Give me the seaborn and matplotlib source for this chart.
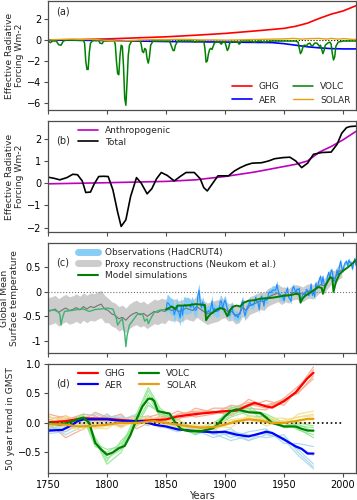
import numpy as np
import seaborn as sns
import matplotlib
matplotlib.use("Agg")
import matplotlib.pyplot as plt
from matplotlib.lines import Line2D
from matplotlib.ticker import FixedLocator, FixedFormatter

# ---------------- panel (a): forcing components ----------------
ghg_years = [1750, 1775, 1800, 1825, 1850, 1875, 1900, 1925, 1950, 1960, 1970, 1980, 1990, 2000, 2011]
ghg_erf = [0.0, 0.03, 0.1, 0.2, 0.3, 0.45, 0.62, 0.85, 1.1, 1.3, 1.6, 2.05, 2.45, 2.75, 3.25]

aer_years = [1750, 1800, 1850, 1900, 1940, 1950, 1960, 1970, 1980, 1990, 2000, 2011]
aer_erf = [0.0, -0.05, -0.15, -0.2, -0.25, -0.35, -0.5, -0.65, -0.75, -0.82, -0.85, -0.85]

volc_years = [1750, 1752, 1754, 1757, 1759, 1761, 1763, 1766, 1780, 1781, 1782, 1783, 1784,
              1785, 1786, 1788, 1793, 1794, 1796, 1797, 1806, 1807, 1808, 1809, 1810, 1811,
              1812, 1813, 1814, 1815, 1816, 1817, 1818, 1819, 1821, 1828, 1829, 1830, 1831,
              1832, 1833, 1834, 1835, 1836, 1837, 1839, 1853, 1855, 1856, 1857, 1858, 1860,
              1872, 1875, 1877, 1882, 1883, 1884, 1885, 1886, 1887, 1888, 1889, 1890, 1891,
              1893, 1895, 1897, 1898, 1900, 1901, 1902, 1903, 1904, 1906, 1908, 1911, 1912,
              1913, 1914, 1916, 1920, 1925, 1929, 1933, 1940, 1950, 1960, 1962, 1963, 1964,
              1965, 1966, 1967, 1968, 1969, 1970, 1972, 1973, 1974, 1976, 1978, 1980, 1981,
              1982, 1983, 1984, 1985, 1987, 1989, 1990, 1991, 1992, 1993, 1994, 1996, 2000,
              2011]
volc_erf = [-0.05, -0.25, -0.1, -0.1, -0.45, -0.5, -0.1, 0.0, -0.05, -0.3, -2.0, -2.8, -2.8,
            -1.2, -0.3, -0.05, -0.05, -0.3, -0.35, -0.1, -0.05, -0.4, -2.0, -3.2, -3.3, -1.5,
            -0.5, -0.6, -2.5, -5.5, -6.2, -4.0, -1.5, -0.5, -0.1, -0.05, -0.4, -1.1, -1.2,
            -0.8, -0.9, -1.8, -2.2, -1.6, -0.5, -0.1, -0.1, -0.7, -1.0, -1.0, -0.5, -0.1,
            -0.1, -0.2, -0.1, -0.1, -0.8, -2.1, -2.0, -1.3, -0.9, -0.8, -0.9, -0.6, -0.3,
            -0.15, -0.2, -0.4, -0.2, -0.2, -0.6, -1.0, -0.8, -0.3, -0.15, -0.2, -0.2, -0.4,
            -0.3, -0.1, -0.1, -0.1, -0.2, -0.1, -0.2, -0.1, -0.1, -0.1, -0.2, -0.8, -1.3,
            -1.1, -0.7, -0.5, -0.5, -0.6, -0.4, -0.3, -0.5, -0.6, -0.3, -0.3, -0.6, -0.5,
            -0.9, -1.3, -1.0, -0.5, -0.3, -0.2, -0.4, -1.3, -1.9, -1.6, -0.6, -0.2, -0.1,
            -0.1]

solar_years = [1750, 1760, 1770, 1780, 1790, 1800, 1810, 1820, 1830, 1840, 1850, 1860, 1870,
               1880, 1890, 1900, 1910, 1920, 1930, 1940, 1950, 1958, 1965, 1970, 1980, 1986,
               1990, 1996, 2001, 2008, 2011]
solar_erf = [0.0, 0.05, 0.08, 0.05, 0.05, -0.05, -0.1, -0.05, 0.0, 0.03, 0.02, 0.05, 0.05,
             0.0, 0.0, -0.02, 0.0, 0.03, 0.05, 0.08, 0.1, 0.15, 0.08, 0.12, 0.15, 0.08,
             0.15, 0.08, 0.13, 0.05, 0.05]

# ---------------- panel (b): total and anthropogenic ----------------
anthro_years = [1750, 1800, 1850, 1875, 1900, 1925, 1950, 1960, 1970, 1980, 1990, 2000, 2011]
anthro_erf = [-0.03, 0.02, 0.08, 0.15, 0.3, 0.5, 0.75, 0.85, 1.0, 1.4, 1.65, 1.95, 2.33]

total_years = [1750, 1755, 1760, 1766, 1771, 1775, 1779, 1782, 1786, 1789, 1793, 1797, 1801,
               1805, 1809, 1812, 1816, 1820, 1825, 1829, 1834, 1838, 1842, 1846, 1851, 1857,
               1862, 1867, 1874, 1879, 1882, 1885, 1889, 1894, 1903, 1908, 1913, 1918, 1923,
               1931, 1937, 1942, 1949, 1955, 1960, 1965, 1970, 1975, 1982, 1990, 1995, 1999,
               2003, 2006, 2011]
total_erf = [0.27, 0.22, 0.15, 0.25, 0.4, 0.38, 0.1, -0.42, -0.4, -0.05, 0.3, 0.31, 0.3,
             -0.3, -1.3, -1.95, -1.65, -0.6, 0.25, 0.0, -0.48, -0.25, 0.2, 0.48, 0.35, 0.1,
             0.3, 0.48, 0.48, 0.2, -0.2, -0.35, -0.05, 0.33, 0.33, 0.55, 0.7, 0.82, 0.9,
             0.92, 1.0, 1.1, 1.15, 1.17, 1.0, 0.7, 0.9, 1.3, 1.38, 1.4, 1.75, 2.25,
             2.5, 2.55, 2.57]

# ---------------- panel (c): temperature ----------------
proxy_years = np.arange(1750, 2000, 3)
proxy_median = [-0.40, -0.38, -0.35, -0.42, -0.37, -0.33, -0.38, -0.36, -0.32, -0.37,
                -0.30, -0.35, -0.30, -0.32, -0.28, -0.25, -0.35, -0.38, -0.45, -0.48,
                -0.55, -0.52, -0.58, -0.50, -0.45, -0.42, -0.47, -0.44, -0.50, -0.45,
                -0.40, -0.42, -0.38, -0.40, -0.35, -0.38, -0.36, -0.40, -0.38, -0.33,
                -0.36, -0.38, -0.30, -0.35, -0.40, -0.45, -0.42, -0.40, -0.38, -0.33,
                -0.35, -0.42, -0.40, -0.48, -0.45, -0.32, -0.38, -0.28, -0.25, -0.22,
                -0.18, -0.20, -0.12, -0.08, -0.05, -0.02, -0.08, -0.05, -0.08, -0.02,
                0.00, -0.02, -0.05, 0.00, 0.02, 0.00, 0.08, 0.15, 0.12, 0.22,
                0.30, 0.28, 0.40, 0.45]
proxy_halfwidth_by_block = [0.28, 0.25, 0.22, 0.18, 0.15]
proxy_block_sizes = [17, 17, 16, 17, 17]

obs_years = np.arange(1850, 2012)
obs_temp = [-0.37, -0.22, -0.23, -0.27, -0.29, -0.30, -0.32, -0.47, -0.39, -0.28,
            -0.39, -0.43, -0.53, -0.28, -0.48, -0.28, -0.26, -0.30, -0.28, -0.28,
            -0.28, -0.32, -0.23, -0.29, -0.35, -0.38, -0.36, -0.07, 0.03, -0.23,
            -0.32, -0.21, -0.30, -0.33, -0.41, -0.42, -0.38, -0.42, -0.33, -0.19,
            -0.40, -0.33, -0.39, -0.40, -0.39, -0.37, -0.19, -0.19, -0.36, -0.23,
            -0.17, -0.25, -0.35, -0.43, -0.49, -0.37, -0.29, -0.45, -0.47, -0.50,
            -0.48, -0.53, -0.46, -0.44, -0.24, -0.18, -0.40, -0.49, -0.38, -0.30,
            -0.27, -0.19, -0.28, -0.26, -0.27, -0.22, -0.11, -0.20, -0.21, -0.36,
            -0.15, -0.09, -0.16, -0.29, -0.12, -0.17, -0.15, -0.02, 0.00, -0.02,
            0.03, 0.04, 0.03, 0.04, 0.15, 0.03, -0.09, -0.09, -0.09, -0.10,
            -0.18, -0.06, 0.01, 0.08, -0.12, -0.14, -0.19, 0.05, 0.11, 0.06,
            -0.03, 0.06, 0.04, 0.07, -0.20, -0.11, -0.06, -0.02, -0.08, 0.05,
            0.03, -0.08, 0.01, 0.16, -0.07, -0.01, -0.10, 0.18, 0.07, 0.16,
            0.26, 0.32, 0.14, 0.31, 0.16, 0.12, 0.18, 0.33, 0.40, 0.27,
            0.45, 0.41, 0.22, 0.23, 0.32, 0.45, 0.33, 0.52, 0.63, 0.49,
            0.44, 0.55, 0.60, 0.62, 0.54, 0.65, 0.59, 0.59, 0.47, 0.60,
            0.68, 0.54]
obs_err_by_decade = [0.17, 0.17, 0.14, 0.12, 0.12, 0.10, 0.10, 0.08, 0.08, 0.09,
                     0.06, 0.05, 0.05, 0.05, 0.05, 0.05, 0.05]
obs_decade_sizes = [10] * 16 + [2]

model_pre_years = [1750, 1755, 1758, 1760, 1761, 1762, 1764, 1770, 1775, 1780, 1783, 1785,
                   1790, 1795, 1800, 1805, 1808, 1809, 1811, 1813, 1815, 1816, 1817, 1819,
                   1822, 1826, 1830, 1832, 1834, 1835, 1837, 1840, 1845, 1850]
model_pre = [-0.38, -0.37, -0.40, -0.45, -0.68, -0.55, -0.40, -0.38, -0.36, -0.35, -0.38, -0.40,
             -0.36, -0.35, -0.33, -0.35, -0.55, -0.68, -0.60, -0.55, -0.85, -1.12, -0.90, -0.68,
             -0.58, -0.45, -0.45, -0.60, -0.55, -0.65, -0.55, -0.42, -0.37, -0.36]
model_post_years = [1850, 1855, 1858, 1860, 1865, 1870, 1875, 1880, 1883, 1884, 1886, 1888,
                    1890, 1893, 1896, 1899, 1902, 1904, 1907, 1910, 1913, 1916, 1920, 1925,
                    1930, 1935, 1940, 1945, 1950, 1955, 1960, 1963, 1964, 1966, 1968, 1972,
                    1975, 1979, 1982, 1983, 1985, 1989, 1991, 1992, 1994, 1997, 2000, 2004,
                    2008, 2011]
model_post = [-0.36, -0.30, -0.35, -0.28, -0.28, -0.27, -0.25, -0.26, -0.27, -0.58, -0.50, -0.45,
              -0.42, -0.36, -0.33, -0.35, -0.50, -0.38, -0.30, -0.28, -0.30, -0.22, -0.18, -0.17,
              -0.14, -0.13, -0.12, -0.10, -0.08, -0.07, -0.04, -0.05, -0.22, -0.13, -0.08, -0.02,
              0.03, 0.10, 0.08, -0.04, 0.12, 0.30, 0.28, 0.00, 0.20, 0.36, 0.43, 0.50,
              0.58, 0.65]

# ---------------- panel (d): 50 year trends ----------------
member_years = [1750, 1765, 1780, 1790, 1800, 1812, 1825, 1835, 1845, 1860, 1875, 1890,
                1905, 1920, 1935, 1950, 1962, 1975]

ghg_trend_years = [1750, 1765, 1780, 1800, 1825, 1850, 1860, 1875, 1900, 1910, 1920, 1925,
                   1935, 1940, 1950, 1960, 1965, 1970, 1975]
ghg_trend = [0.01, 0.03, 0.08, 0.07, 0.03, 0.06, 0.11, 0.15, 0.2, 0.21, 0.3, 0.34,
             0.28, 0.26, 0.37, 0.52, 0.64, 0.76, 0.85]
ghg_members = [
    [0.10, 0.05, 0.15, 0.12, 0.02, -0.05, 0.02, 0.05, 0.10, 0.12, 0.18, 0.15, 0.20, 0.32, 0.25, 0.35, 0.55, 0.90],
    [-0.05, -0.15, 0.05, 0.18, 0.10, 0.08, -0.02, 0.10, 0.15, 0.08, 0.12, 0.25, 0.25, 0.35, 0.30, 0.40, 0.50, 0.80],
    [0.05, 0.12, 0.00, 0.02, 0.15, -0.08, 0.08, 0.12, 0.00, 0.15, 0.20, 0.20, 0.12, 0.28, 0.38, 0.30, 0.58, 0.95],
    [0.00, -0.25, -0.10, 0.05, -0.05, 0.05, 0.12, -0.03, 0.05, 0.20, 0.10, 0.15, 0.30, 0.25, 0.22, 0.42, 0.62, 0.85],
    [0.15, 0.08, 0.10, -0.05, 0.08, 0.15, -0.10, 0.00, 0.12, 0.05, 0.25, 0.18, 0.15, 0.40, 0.28, 0.38, 0.52, 0.75],
]

aer_trend_years = [1750, 1762, 1770, 1775, 1780, 1800, 1815, 1830, 1840, 1850, 1860, 1870,
                   1890, 1900, 1910, 1920, 1935, 1940, 1950, 1960, 1965, 1970, 1975]
aer_trend = [-0.13, -0.12, -0.04, 0.03, 0.06, 0.06, 0.03, 0.03, -0.03, -0.06, -0.11, -0.13,
             -0.16, -0.15, -0.2, -0.23, -0.15, -0.17, -0.28, -0.4, -0.44, -0.52, -0.52]
aer_members = [
    [-0.10, -0.05, 0.10, 0.15, 0.08, 0.05, 0.15, 0.00, -0.05, -0.15, -0.05, -0.20, -0.10, -0.30, -0.20, -0.25, -0.45, -0.70],
    [-0.18, -0.15, 0.00, 0.05, 0.10, 0.12, -0.05, 0.08, 0.05, -0.05, -0.20, -0.10, -0.25, -0.15, -0.10, -0.35, -0.35, -0.40],
    [-0.05, -0.20, -0.05, 0.12, 0.00, 0.08, 0.05, -0.05, 0.10, -0.10, -0.12, -0.25, -0.15, -0.20, -0.25, -0.20, -0.50, -0.75],
    [-0.15, -0.10, 0.05, -0.05, 0.15, 0.00, 0.10, 0.10, -0.08, 0.00, -0.15, -0.15, -0.20, -0.30, -0.12, -0.30, -0.40, -0.55],
    [-0.12, -0.08, -0.02, 0.08, 0.05, 0.10, 0.00, 0.05, 0.00, -0.12, -0.08, -0.18, -0.30, -0.22, -0.18, -0.28, -0.55, -0.78],
]

volc_trend_years = [1750, 1760, 1770, 1775, 1780, 1785, 1790, 1795, 1800, 1805, 1810, 1815,
                    1820, 1825, 1830, 1835, 1838, 1840, 1843, 1850, 1853, 1858, 1863, 1870,
                    1880, 1890, 1895, 1900, 1905, 1910, 1920, 1930, 1935, 1940, 1945, 1950,
                    1960, 1965, 1970, 1975]
volc_trend = [0.0, -0.03, 0.02, 0.06, 0.09, 0.0, -0.34, -0.45, -0.54, -0.5, -0.43, -0.39,
              -0.2, 0.06, 0.28, 0.41, 0.41, 0.37, 0.2, 0.17, 0.16, 0.0, -0.11, -0.14,
              -0.14, -0.09, 0.0, 0.11, 0.2, 0.23, 0.18, 0.17, 0.09, 0.0, -0.03, -0.06,
              -0.06, -0.1, -0.13, -0.13]
volc_members = [
    [0.05, 0.00, 0.12, -0.25, -0.60, -0.45, 0.10, 0.55, 0.20, -0.05, -0.20, -0.05, 0.25, 0.30, 0.05, -0.05, -0.02, -0.15],
    [-0.05, -0.05, 0.08, -0.40, -0.50, -0.35, 0.00, 0.35, 0.15, 0.05, -0.10, -0.15, 0.15, 0.22, 0.15, 0.00, -0.10, -0.25],
    [0.00, 0.05, 0.05, -0.30, -0.70, -0.50, 0.05, 0.48, 0.10, -0.10, -0.15, -0.10, 0.28, 0.12, 0.10, -0.08, -0.05, -0.08],
    [0.02, -0.02, 0.15, -0.35, -0.45, -0.40, 0.15, 0.60, 0.25, 0.00, -0.18, 0.00, 0.18, 0.25, 0.00, 0.02, -0.12, -0.20],
    [-0.03, 0.03, 0.10, -0.28, -0.65, -0.30, -0.05, 0.30, 0.18, 0.05, -0.12, -0.08, 0.10, 0.20, 0.12, -0.05, 0.00, -0.05],
]

solar_trend_years = [1750, 1765, 1775, 1790, 1800, 1810, 1825, 1840, 1850, 1870, 1880, 1890,
                     1900, 1910, 1920, 1930, 1940, 1950, 1960, 1970, 1975]
solar_trend = [-0.02, -0.03, -0.06, -0.05, -0.03, 0.0, 0.0, 0.03, 0.0, -0.06, -0.08, -0.07,
               -0.03, 0.03, 0.06, 0.04, 0.0, 0.0, 0.03, 0.07, 0.07]
solar_members = [
    [0.10, 0.05, -0.05, 0.00, 0.05, 0.08, -0.05, 0.05, 0.10, -0.02, -0.10, 0.00, 0.05, 0.10, -0.05, 0.05, 0.10, 0.15],
    [-0.08, 0.12, 0.00, -0.10, -0.05, 0.00, 0.08, 0.10, -0.05, -0.10, -0.05, -0.12, 0.00, 0.05, 0.10, 0.00, 0.05, 0.05],
    [0.05, -0.08, -0.12, 0.05, 0.00, -0.08, 0.05, -0.02, 0.05, 0.00, -0.15, -0.05, -0.08, 0.12, 0.05, -0.05, 0.15, 0.20],
    [0.12, 0.00, 0.05, -0.08, -0.10, 0.05, -0.02, 0.08, 0.00, -0.08, -0.02, -0.10, 0.05, 0.00, 0.08, 0.08, 0.00, 0.00],
    [-0.05, 0.05, -0.08, 0.02, 0.08, -0.03, 0.00, 0.00, -0.08, 0.05, -0.08, 0.00, -0.02, 0.08, 0.00, 0.02, 0.10, 0.12],
]

# colours
c_ghg, c_aer, c_volc, c_solar = "red", "blue", "green", "#e5a010"
c_ghg_l, c_aer_l, c_volc_l, c_solar_l = "#f9a88a", "#a8d8ea", "#90e890", "#f3e08a"

sns.set_style("ticks")
plt.rcParams["font.family"] = ["DejaVu Sans"]
plt.rcParams["font.size"] = 7
plt.rcParams["axes.edgecolor"] = "0.3"
plt.rcParams["xtick.color"] = "0.3"
plt.rcParams["ytick.color"] = "0.3"
plt.rcParams["xtick.labelcolor"] = "black"
plt.rcParams["ytick.labelcolor"] = "black"
plt.rcParams["xtick.labelsize"] = 7
plt.rcParams["ytick.labelsize"] = 7

fig = plt.figure(figsize=(3.57, 5.0), dpi=100)
left, width = 0.1345, 0.8625
ax_a = fig.add_axes([left, 0.780, width, 0.218])
ax_b = fig.add_axes([left, 0.536, width, 0.222])
ax_c = fig.add_axes([left, 0.294, width, 0.220])
ax_d = fig.add_axes([left, 0.054, width, 0.218])

def line(ax, x, y, **kw):
    sns.lineplot(x=x, y=y, ax=ax, estimator=None, sort=False, **kw)

ylab_size = 6.6

# (a)
ax_a.axhline(0, color="black", ls=":", lw=0.8)
line(ax_a, ghg_years, ghg_erf, color=c_ghg, lw=1.2, label="GHG")
line(ax_a, aer_years, aer_erf, color=c_aer, lw=1.2, label="AER")
line(ax_a, volc_years, volc_erf, color=c_volc, lw=1.1, label="VOLC")
line(ax_a, solar_years, solar_erf, color=c_solar, lw=1.0, label="SOLAR")
ax_a.set_ylim(-6.65, 3.7)
ax_a.set_yticks([2, 0, -2, -4, -6])
ax_a.set_ylabel("Effective Radiative\nForcing Wm-2", fontsize=ylab_size, labelpad=2)
ax_a.legend(loc="lower right", ncol=2, frameon=False, fontsize=6.5,
            handlelength=2.2, columnspacing=1.5, borderaxespad=0.2)
ax_a.text(0.025, 0.95, "(a)", transform=ax_a.transAxes, va="top", fontsize=7)

# (b)
line(ax_b, anthro_years, anthro_erf, color="m", lw=1.2, label="Anthropogenic")
line(ax_b, total_years, total_erf, color="black", lw=1.2, label="Total")
ax_b.set_ylim(-2.2, 2.8)
ax_b.set_yticks([2, 1, 0, -1, -2])
ax_b.set_ylabel("Effective Radiative\nForcing Wm-2", fontsize=ylab_size, labelpad=2)
ax_b.legend(loc="upper left", bbox_to_anchor=(0.07, 1.03), frameon=False, fontsize=6.5,
            handlelength=2.2, labelspacing=0.3)
ax_b.text(0.025, 0.87, "(b)", transform=ax_b.transAxes, va="top", fontsize=7)

# (c)
proxy_hw = np.repeat(proxy_halfwidth_by_block, proxy_block_sizes)
obs_err = np.repeat(obs_err_by_decade, obs_decade_sizes)
pm = np.array(proxy_median)
ob = np.array(obs_temp)
ax_c.axhline(0, color="0.45", ls=":", lw=0.8)
ax_c.fill_between(proxy_years, pm - proxy_hw, pm + proxy_hw, color="0.8", lw=0)
line(ax_c, proxy_years, proxy_median, color="0.45", lw=0.8)
ax_c.fill_between(obs_years, ob - obs_err, ob + obs_err, color="#87cdf5", lw=0)
line(ax_c, obs_years, obs_temp, color="#1e8cff", lw=0.8)
line(ax_c, model_pre_years, model_pre, color="#3cb371", lw=1.0)
line(ax_c, model_post_years, model_post, color="green", lw=1.4)
ax_c.set_ylim(-1.25, 1.0)
ax_c.yaxis.set_major_locator(FixedLocator([0.5, 0, -0.5, -1]))
ax_c.yaxis.set_major_formatter(FixedFormatter(["0.5", "0", "-0.5", "-1"]))
ax_c.set_ylabel("Global Mean\nSurface temperature", fontsize=ylab_size, labelpad=2)
handles_c = [Line2D([], [], color="#87cdf5", lw=5),
             Line2D([], [], color="0.8", lw=5),
             Line2D([], [], color="green", lw=1.5)]
ax_c.legend(handles_c, ["Observations (HadCRUT4)", "Proxy reconstructions (Neukom et al.)",
                        "Model simulations"],
            loc="upper left", bbox_to_anchor=(0.07, 1.03), frameon=False, fontsize=6.5,
            handlelength=2.2, labelspacing=0.3)
ax_c.text(0.025, 0.87, "(c)", transform=ax_c.transAxes, va="top", fontsize=7)

# (d)
for members, col in [(ghg_members, c_ghg_l), (aer_members, c_aer_l),
                     (volc_members, c_volc_l), (solar_members, c_solar_l)]:
    for m in members:
        line(ax_d, member_years, m, color=col, lw=0.9, alpha=0.9)
ax_d.hlines(0, 1750, 2000, color="black", ls=":", lw=1.2)
line(ax_d, ghg_trend_years, ghg_trend, color=c_ghg, lw=1.6, label="GHG")
line(ax_d, aer_trend_years, aer_trend, color=c_aer, lw=1.6, label="AER")
line(ax_d, volc_trend_years, volc_trend, color=c_volc, lw=1.6, label="VOLC")
line(ax_d, solar_trend_years, solar_trend, color=c_solar, lw=1.6, label="SOLAR")
ax_d.set_ylim(-0.85, 1.0)
ax_d.set_yticks([1.0, 0.5, 0.0, -0.5])
ax_d.set_ylabel("50 year trend in GMST", fontsize=ylab_size, labelpad=2)
ax_d.set_xlabel("Years", fontsize=7, labelpad=1)
ax_d.legend(loc="upper left", bbox_to_anchor=(0.07, 1.03), ncol=2, frameon=False,
            fontsize=6.5, handlelength=2.2, labelspacing=0.3, columnspacing=1.5)
ax_d.text(0.025, 0.87, "(d)", transform=ax_d.transAxes, va="top", fontsize=7)

for ax in [ax_a, ax_b, ax_c, ax_d]:
    ax.set_xlim(1750, 2011)
    ax.set_xticks([1750, 1800, 1850, 1900, 1950, 2000])
    ax.tick_params(length=3, width=0.8, pad=2)
    for s in ax.spines.values():
        s.set_linewidth(0.9)
for ax in [ax_a, ax_b, ax_c]:
    ax.set_xticklabels([])
    ax.set_xlabel("")

fig.savefig("out.png", dpi=100)
